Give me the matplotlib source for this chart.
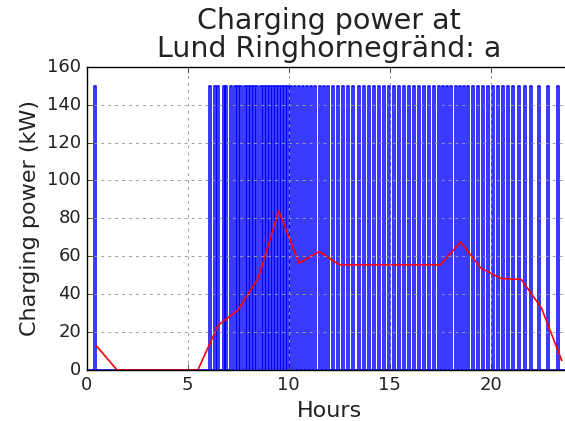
import numpy as np
import matplotlib
matplotlib.use("Agg")
import matplotlib.pyplot as plt

# charging sessions at 150 kW: start hour of each pulse
pulse_start = [0.35,
               6.05, 6.3, 6.45, 6.75, 6.85, 7.1, 7.3, 7.45, 7.6, 7.8, 7.95, 8.1,
               8.25, 8.4, 8.55, 8.7, 8.85, 9.0, 9.15, 9.3, 9.45, 9.6, 9.75, 9.9,
               10.05, 10.25, 10.45, 10.65, 10.85, 11.05, 11.25, 11.5, 11.7, 11.9,
               12.15, 12.4, 12.65, 12.9, 13.15, 13.4, 13.65, 13.9, 14.15, 14.4,
               14.65, 14.9, 15.15, 15.4, 15.65, 15.9, 16.15, 16.4, 16.65, 16.9,
               17.15, 17.4, 17.6, 17.8, 18.0, 18.2, 18.4, 18.6, 18.8, 19.05,
               19.3, 19.55, 19.8, 20.05, 20.3, 20.55, 20.8, 21.05, 21.35, 21.65,
               21.95, 22.35, 22.8, 23.25, 23.75]
pulse_len = 0.1
peak_kw = 150

# hourly mean charging power
hour_mid = [0.5, 1.5, 2.5, 3.5, 4.5, 5.5, 6.5, 7.5, 8.5, 9.5, 10.5, 11.5,
            12.5, 13.5, 14.5, 15.5, 16.5, 17.5, 18.5, 19.5, 20.5, 21.5, 22.5, 23.5]
hour_mean = [12.5, 0, 0, 0, 0, 0, 23.6, 31.8, 48.8, 84, 56.4, 62.5,
             55.5, 55.5, 55.5, 55.5, 55.5, 55.5, 67.5, 53.8, 48.3, 47.8, 32.8, 5.2]

plt.style.use('classic')

# build the step trace out of the pulses
t = [0.0]
p = [0.0]
for s in pulse_start:
    t += [s, s, s + pulse_len, s + pulse_len]
    p += [0, peak_kw, peak_kw, 0]
t.append(24.0)
p.append(0)

fig = plt.figure(figsize=(5.65, 4.21), dpi=100, facecolor='white')
# the panel runs a little past the right edge of the picture
ax = fig.add_axes([0.1535, 0.121, 0.8584, 0.7206])
ax.plot(t, p, color='b', linewidth=1.1)
ax.plot(hour_mid, hour_mean, color='r', linewidth=1.2)

ax.set_xlim(0, 24)
ax.set_ylim(0, 160)
ax.set_xticks([0, 5, 10, 15, 20])
ax.set_yticks(np.arange(0, 161, 20))
ax.tick_params(labelsize=13, colors='#222222')
ax.grid(True, color='0.6', linestyle=(0, (2, 3)), linewidth=0.7)
for s in ax.spines.values():
    s.set_zorder(3)
ax.set_xlabel('Hours', fontsize=16, color='#222222')
ax.set_ylabel('Charging power (kW)', fontsize=16, color='#222222')
ax.set_title('Charging power at\nLund Ringhornegränd: a', fontsize=20.5,
             color='#222222', pad=7, linespacing=1.0)

fig.savefig('out.png', dpi=100, facecolor='white')
